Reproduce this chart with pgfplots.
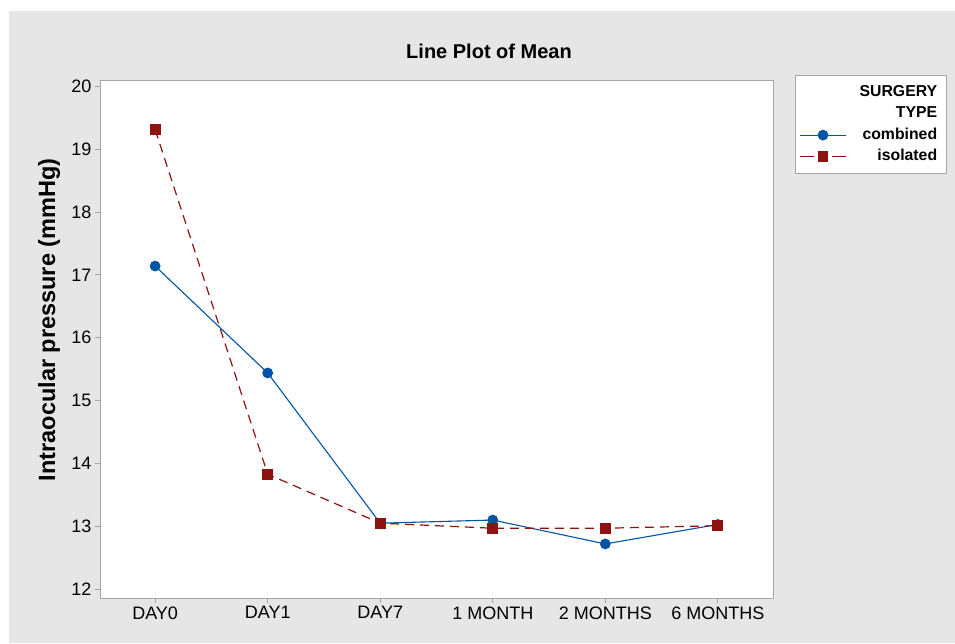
\documentclass[border=0pt]{standalone}
\usepackage{pgfplots}
\pgfplotsset{compat=1.18}
\usepackage{fontspec}
\setmainfont{Liberation Sans}
\definecolor{bggray}{RGB}{230,230,230}
\definecolor{framegray}{RGB}{165,165,165}
\definecolor{mblue}{RGB}{0,84,166}
\definecolor{mred}{RGB}{142,18,18}
\begin{document}
\begin{tikzpicture}
\fill[white] (0,0) rectangle (955pt,643pt);
\fill[bggray] (9pt,0) rectangle (955pt,632pt);
\useasboundingbox (0,0) rectangle (955pt,643pt);
\begin{axis}[
  at={(100pt,45pt)}, anchor=south west,
  scale only axis, width=673pt, height=518pt,
  axis background/.style={fill=white},
  axis line style={framegray, line width=0.9pt},
  xmin=-0.49, xmax=5.49, ymin=11.86, ymax=20.1,
  xtick=data,
  xticklabels={DAY0, DAY1, DAY7, 1 MONTH, 2 MONTHS, 6 MONTHS},
  ytick={12,13,...,20},
  tick pos=left, tick align=outside,
  major tick length=5pt,
  tick style={framegray, line width=0.8pt},
  /pgf/number format/assume math mode=true,
  ticklabel style={font=\fontsize{18}{21}\selectfont, text=black},
  ylabel={Intraocular pressure (mmHg)},
  ylabel style={font=\bfseries\fontsize{23.5}{26}\selectfont, at={(axis description cs:-0.0758,0.537)}, anchor=center},
  legend cell align=right,
  legend image code/.code={\draw[mark repeat=2,mark phase=2,#1] plot coordinates {(0pt,0pt) (23pt,0pt) (46pt,0pt)};},
  legend style={at={(axis description cs:1.0327,1.0097)}, anchor=north west,
    draw=framegray, fill=white, line width=0.8pt, inner xsep=4pt, inner ysep=6pt,
    font=\bfseries\fontsize{15.8}{18}\selectfont,
    nodes={text height=12.3pt, text depth=4pt, inner ysep=2.6pt, inner xsep=2pt},
    row sep=0pt,
    /tikz/every odd column/.append style={column sep=11pt}},
]
\addlegendimage{empty legend}
\addlegendentry{SURGERY\hspace*{3pt}}
\addlegendimage{empty legend}
\addlegendentry{TYPE\hspace*{3pt}}
\addplot[mblue, line width=1.1pt, mark=*, mark size=4.8pt, mark options={fill=mblue, draw=mblue}]
  coordinates {(0,17.14) (1,15.44) (2,13.05) (3,13.10) (4,12.72) (5,13.03)};
\addlegendentry{combined\hspace*{3pt}}
\addplot[mred, line width=1.2pt, dash pattern=on 9pt off 6pt, mark=square*, mark size=4.8pt, mark options={solid, fill=mred, draw=mred},
  legend image post style={dash pattern=on 14pt off 18pt}]
  coordinates {(0,19.31) (1,13.83) (2,13.05) (3,12.97) (4,12.97) (5,13.01)};
\addlegendentry{isolated\hspace*{3pt}}
\end{axis}
\node[font=\bfseries\fontsize{20}{23}\selectfont] at (489pt,592pt) {Line Plot of Mean};
\end{tikzpicture}
\end{document}
